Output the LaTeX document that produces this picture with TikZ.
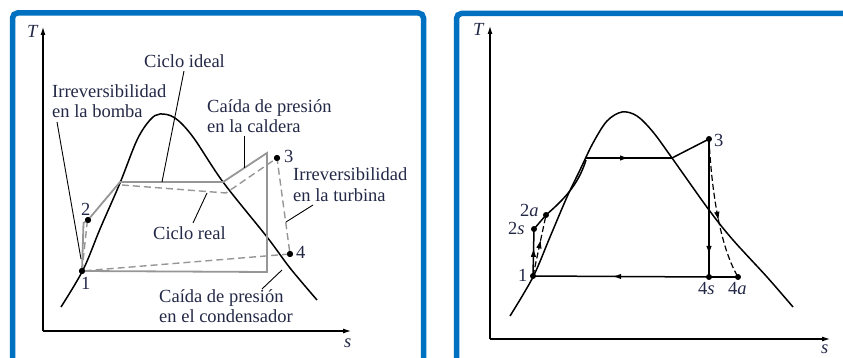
\documentclass[tikz,border=0pt]{standalone}
\usepackage{fontspec}
\setmainfont{Liberation Serif}
\usetikzlibrary{arrows.meta,decorations.markings}
\definecolor{frameblue}{RGB}{0,112,192}
\definecolor{cyclegray}{RGB}{150,150,150}
\definecolor{txt}{RGB}{35,40,70}
\tikzset{
  frame/.style={draw=frameblue,line width=5.5pt,rounded corners=5pt},
  dome/.style={draw=black,line width=1.5pt},
  axis/.style={draw=black,line width=1.1pt,-{Latex[length=8pt,width=5pt]}},
  ideal/.style={draw=cyclegray,line width=1.8pt},
  real/.style={draw=cyclegray,line width=1.4pt,dash pattern=on 7pt off 4pt},
  leader/.style={draw=black,line width=0.9pt},
  proc/.style={draw=black,line width=1.5pt},
  procd/.style={draw=black,line width=1.2pt,dash pattern=on 6pt off 3pt},
  dot/.style={circle,fill=black,inner sep=0pt,minimum size=6pt},
  lbl/.style={text=txt,inner sep=0pt,font=\fontsize{18.5}{20.5}\selectfont},
  midarrow/.style={postaction={decorate},decoration={markings,
      mark=at position #1 with {\arrow{Latex[length=9pt,width=5.5pt]}}}}
}
\begin{document}
\begin{tikzpicture}[x=1pt,y=-1pt]
\useasboundingbox (0,0) rectangle (843,358);
\begin{scope}
\clip (0,0) rectangle (843,358);
\draw[frame] (12.5,13) rectangle (423.5,390);
\draw[frame] (456.5,13.5) rectangle (880,390);
\end{scope}

% ---------------- left panel ----------------
\coordinate (LO) at (43,331);
\coordinate (LT) at (43,27);
\coordinate (LS) at (351,331);
\draw[axis] (LO) -- (LT);
\draw[axis] (LO) -- (LS);
\node[lbl,anchor=base west] (Tl) at (27,38) {\textit{T}};
\node[lbl,anchor=base west] (sl) at (344,347) {\textit{s}};

\draw[dome] plot[smooth,tension=0.55] coordinates {(61,307) (83,270) (100,229) (120,183) (137,140) (150,120) (160,114) (175,118) (193,137) (223,182) (267,237) (290,268) (317,300)};

\node[dot] (p1) at (82,271) {};
\node[dot] (p2) at (88,220) {};
\node[dot] (p3) at (277,158) {};
\node[dot] (p4) at (290,254) {};
\coordinate (i2) at (83.5,223);
\coordinate (iA) at (120,182);
\coordinate (iB) at (223,182);
\coordinate (iC) at (267,153);
\coordinate (iD) at (267,272);
\coordinate (r2) at (87,224);
\coordinate (rA) at (122,185);
\coordinate (rB) at (226,193);

% ideal cycle
\draw[ideal] (p1.center) -- (i2) -- (p2.center) -- (iA) -- (iB) -- (iC) -- (iD) -- (p1.center);
% real cycle
\draw[real] (p1.center) -- (r2) -- (p2.center);
\draw[real] (rA) -- (rB) -- (p3.center) -- (p4.center) -- (p1.center);
\node[dot] at (p1) {};
\node[dot] at (p2) {};
\node[dot] at (p3) {};
\node[dot] at (p4) {};

\node[lbl,anchor=base west] (n1) at (81,289) {1};
\node[lbl,anchor=base west] (n2) at (81,215) {2};
\node[lbl,anchor=base west] (n3) at (284,163) {3};
\node[lbl,anchor=base west] (n4) at (296,258) {4};

% labels
\node[lbl,anchor=base west] (bomba1) at (52,97.5) {Irreversibilidad};
\node[lbl,anchor=base west] (bomba2) at (52,117.5) {en la bomba};
\node[lbl,anchor=base west] (ideal) at (144,68) {Ciclo ideal};
\node[lbl,anchor=base west] (cald1) at (207,113) {Caída de presión};
\node[lbl,anchor=base west] (cald2) at (207,133) {en la caldera};
\node[lbl,anchor=base west] (turb1) at (293,181) {Irreversibilidad};
\node[lbl,anchor=base west] (turb2) at (293,201) {en la turbina};
\node[lbl,anchor=base west] (real) at (153,240) {Ciclo real};
\node[lbl,anchor=base west] (cond1) at (159,302) {Caída de presión};
\node[lbl,anchor=base west] (cond2) at (159,322) {en el condensador};

% leaders
\coordinate (b1) at (57,122);  \coordinate (b2) at (81,259);
\coordinate (c1) at (184,71);  \coordinate (c2) at (162,182);
\coordinate (k1) at (244,136); \coordinate (k2) at (244,168);
\coordinate (r1) at (207,193); \coordinate (r3) at (193,223);
\coordinate (t1) at (313,205); \coordinate (t2) at (286,222);
\coordinate (d1) at (282,270); \coordinate (d2) at (262,289);
\draw[leader] (b1) -- (b2);
\draw[leader] (c1) -- (c2);
\draw[leader] (k1) -- (k2);
\draw[leader] (r1) -- (r3);
\draw[leader] (t1) -- (t2);
\draw[leader] (d1) -- (d2);

% ---------------- right panel ----------------
\coordinate (RO) at (490,339);
\coordinate (RT) at (490,26);
\coordinate (RS) at (830,339);
\draw[axis] (RO) -- (RT);
\draw[axis] (RO) -- (RS);
\node[lbl,anchor=base west] (Tr) at (473,36) {\textit{T}};
\node[lbl,anchor=base west] (sr) at (821,353.5) {\textit{s}};

\draw[dome] plot[smooth,tension=0.55] coordinates {(510,316) (533,277) (550,237) (567,197) (580,170) (593,143) (607,121) (622,112) (637,116) (653,132) (672,158) (709,210) (733,240) (767,277) (793,307)};

\node[dot] (q1) at (533,276) {};
\node[dot] (q2s) at (534,229) {};
\node[dot] (q2a) at (546,215) {};
\node[dot] (q3) at (709,139) {};
\node[dot] (q4s) at (709,277) {};
\node[dot] (q4a) at (738,277) {};
\coordinate (hA) at (586,158);
\coordinate (hB) at (672,158);

\draw[proc,midarrow=0.6] (q1.center) -- (q2s.center);
\draw[procd,midarrow=0.6] (q1.center) -- (q2a.center);
\draw[proc] (q2s.center) -- (q2a.center);
\draw[proc] (q2a.center) .. controls (562,201) and (578,186) .. (586,160);
\draw[proc,midarrow=0.5] (hA) -- (hB);
\draw[proc] (hB) -- (q3.center);
\draw[proc,midarrow=0.84] (q3.center) -- (q4s.center);
\draw[procd,midarrow=0.58] (q3.center) .. controls (712,200) and (722,250) .. (q4a.center);
\draw[line width=2pt] (q4a.center) -- (q4s.center);
\draw[proc,midarrow=0.55] (q4s.center) -- (q1.center);

\node[lbl,anchor=base west] (m1) at (518,281) {1};
\node[lbl,anchor=base west] (m2s) at (508,234) {2\textit{s}};
\node[lbl,anchor=base west] (m2a) at (520,216) {2\textit{a}};
\node[lbl,anchor=base west] (m3) at (714,147) {3};
\node[lbl,anchor=base west] (m4s) at (698,294) {4\textit{s}};
\node[lbl,anchor=base west] (m4a) at (728,294) {4\textit{a}};
\end{tikzpicture}
\end{document}
